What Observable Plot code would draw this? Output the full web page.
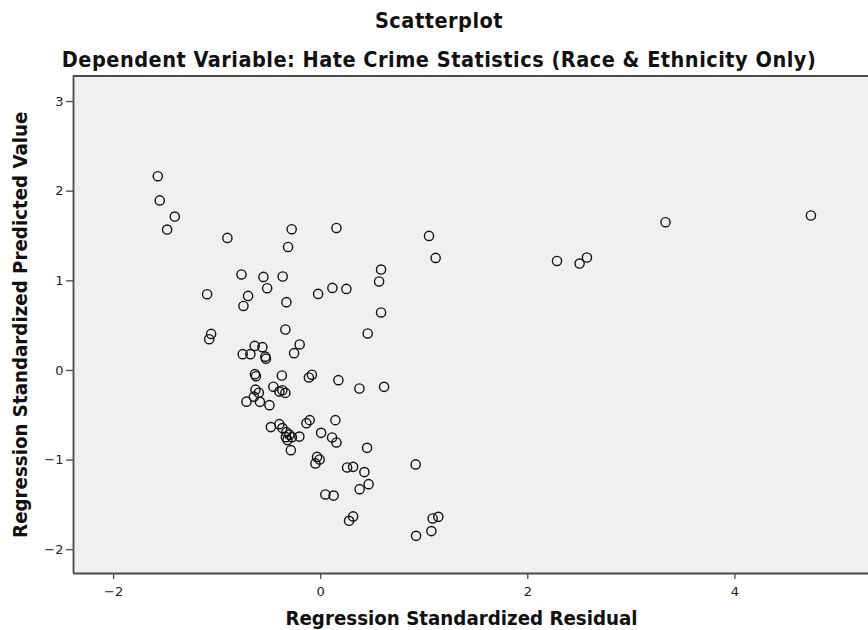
<!DOCTYPE html>
<html>
<head>
<meta charset="utf-8">
<script src="https://cdn.jsdelivr.net/npm/d3@7"></script>
<script src="https://cdn.jsdelivr.net/npm/@observablehq/plot@0.6"></script>
<style>
  html, body { margin: 0; padding: 0; background: #fff; }
  #wrap { position: relative; width: 868px; height: 630px; overflow: hidden; }
  #head { position: relative; width: 868px; height: 70px; font-family: "DejaVu Sans Condensed", "DejaVu Sans", sans-serif; font-weight: bold; color: #111; }
  #title { position: absolute; left: 0; width: 868px; top: 7px; text-align: center; font-size: 21.5px; line-height: 28px; padding-left: 10px; box-sizing: border-box; letter-spacing: 0.5px; }
  #subtitle { position: absolute; left: 0; width: 868px; top: 46px; text-align: center; font-size: 21.5px; line-height: 28px; padding-left: 10px; box-sizing: border-box; letter-spacing: 0.5px; }
  svg { display: block; }
</style>
</head>
<body>
<div id="wrap">
  <div id="head">
    <div id="title"></div>
    <div id="subtitle"></div>
  </div>
  <div id="chart"></div>
</div>
<script>
const titleText = "Scatterplot";
const subtitleText = "Dependent Variable: Hate Crime Statistics (Race & Ethnicity Only)";
const xLabel = "Regression Standardized Residual";
const yLabel = "Regression Standardized Predicted Value";
const xTicks = [-2, 0, 2, 4];
const yTicks = [-2, -1, 0, 1, 2, 3];
const xDomain = [-2.387, 5.29];
const yDomain = [-2.265, 3.285];

// Regression standardized residual (x) for each case
const residual = [
  -1.573, -1.554, -1.409, -1.483, -0.901, -0.280, -0.315, 0.152, 1.046, 1.110,
  2.282, 2.500, 2.571, 3.330, 4.734,
  -0.765, -0.553, -0.367, -0.517, -1.097, -0.701, -0.746, -0.331, -0.025, 0.113,
  0.248, 0.583, 0.564, 0.583, 0.454, -0.341, -1.058, -1.077,
  -0.637, -0.563, -0.203, -0.753, -0.679, -0.534, -0.529, -0.257,
  -0.635, -0.625, -0.375, -0.114, -0.085, 0.171, 0.374, 0.612,
  -0.630, -0.597, -0.457, -0.399, -0.370, -0.341, -0.645, -0.717, -0.587, -0.495,
  -0.481, -0.399, -0.370, -0.331, -0.302, -0.278, -0.336, -0.321, -0.206, -0.288,
  -0.138, -0.106, 0.004, 0.142, 0.110, 0.152, 0.448,
  -0.035, -0.010, -0.051, 0.255, 0.313, 0.422, 0.463, 0.376, 0.917,
  0.045, 0.125, 0.313, 0.274, 1.081, 1.136, 1.069, 0.921
];
// Regression standardized predicted value (y) for each case
const predicted = [
  2.167, 1.897, 1.717, 1.572, 1.479, 1.576, 1.378, 1.590, 1.501, 1.256,
  1.222, 1.193, 1.260, 1.654, 1.729,
  1.071, 1.044, 1.048, 0.918, 0.851, 0.832, 0.720, 0.762, 0.854, 0.921,
  0.910, 1.126, 0.993, 0.647, 0.413, 0.457, 0.408, 0.349,
  0.274, 0.260, 0.290, 0.182, 0.182, 0.154, 0.132, 0.193,
  -0.041, -0.064, -0.056, -0.078, -0.047, -0.108, -0.201, -0.183,
  -0.214, -0.248, -0.181, -0.236, -0.220, -0.250, -0.292, -0.348, -0.350, -0.387,
  -0.632, -0.599, -0.643, -0.688, -0.716, -0.744, -0.744, -0.777, -0.738, -0.889,
  -0.588, -0.554, -0.696, -0.554, -0.747, -0.803, -0.863,
  -0.964, -0.993, -1.037, -1.082, -1.075, -1.134, -1.268, -1.324, -1.048,
  -1.383, -1.396, -1.628, -1.677, -1.651, -1.633, -1.792, -1.845
];

document.getElementById("title").textContent = titleText;
document.getElementById("subtitle").textContent = subtitleText;

const points = residual.map((r, i) => ({x: r, y: predicted[i]}));
const frameColor = "#4a4a4a";
const labelFont = "'DejaVu Sans Condensed', 'DejaVu Sans', sans-serif";
const fmt = d3.format("d");

const chart = Plot.plot({
  width: 868,
  height: 560,
  marginTop: 5.5,
  marginBottom: 57,
  marginLeft: 73,
  marginRight: 0,
  style: {background: "#fff", fontFamily: "'DejaVu Sans', sans-serif", fontSize: "13px", color: "#222"},
  x: {domain: xDomain, label: null},
  y: {domain: yDomain, label: null},
  marks: [
    Plot.frame({fill: "#f0f0f0", stroke: null}),
    Plot.ruleX([xDomain[0]], {stroke: frameColor, strokeWidth: 1.8}),
    Plot.ruleY(yDomain, {stroke: frameColor, strokeWidth: 1.8}),
    Plot.axisX(xTicks, {tickSize: 6, tickPadding: 7, tickFormat: fmt, label: null, stroke: frameColor, strokeWidth: 1.3}),
    Plot.axisY(yTicks, {tickSize: 7, tickPadding: 3, tickFormat: fmt, label: null, stroke: frameColor, strokeWidth: 1.3}),
    Plot.dot(points, {x: "x", y: "y", r: 4.6, stroke: "#111", strokeWidth: 1.4, fill: "none"}),
    Plot.text([xLabel], {frameAnchor: "bottom", textAnchor: "middle", lineAnchor: "middle", dx: -9.5, dy: 45, fontSize: 20.3, fontWeight: "bold", fontFamily: labelFont, fill: "#111"}),
    Plot.text([yLabel], {frameAnchor: "left", textAnchor: "middle", lineAnchor: "middle", rotate: -90, dx: -53, fontSize: 20.3, fontWeight: "bold", fontFamily: labelFont, fill: "#111"})
  ]
});
document.getElementById("chart").appendChild(chart);
</script>
</body>
</html>
